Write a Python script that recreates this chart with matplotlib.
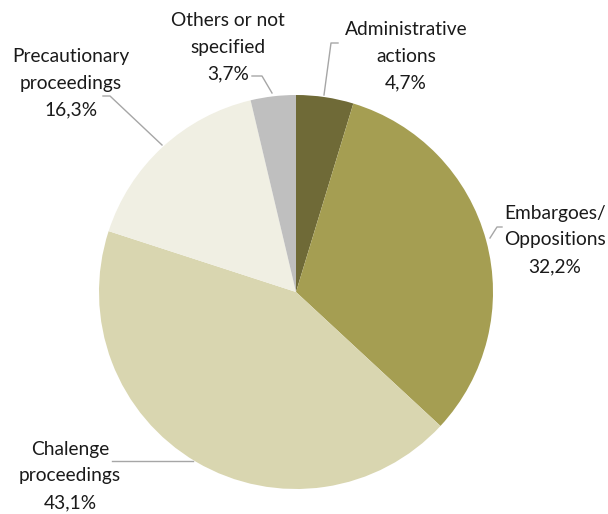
import matplotlib
matplotlib.use("Agg")
import matplotlib.pyplot as plt

# share of proceedings by type, clockwise from 12 o'clock
categories = ["Administrative\nactions", "Embargoes/\nOppositions", "Chalenge\nproceedings",
              "Precautionary\nproceedings", "Others or not\nspecified"]
shares = [4.7, 32.2, 43.1, 16.3, 3.7]
colors = ["#6f6a37", "#a59e52", "#d9d6b0", "#f0efe3", "#bfbfbf"]

W, H = 608, 514
fig = plt.figure(figsize=(W / 100, H / 100), dpi=100)
ax = fig.add_axes([0, 0, 1, 1])

cx, cy, r = 296, 292, 197
wedges, _ = ax.pie(shares, colors=colors, startangle=90, counterclock=False,
                   center=(cx, -cy), radius=r, frame=True)
# pie draws in y-up space; flip it into the pixel-style axes
for w in wedges:
    w.set_center((cx, cy))
    t1, t2 = w.theta1, w.theta2
    w.set_theta1(-t2)
    w.set_theta2(-t1)
ax.set_xlim(0, W)
ax.set_ylim(H, 0)
ax.set_aspect("equal")
ax.axis("off")

# label positions (text centre) and leader lines
label_pos = [(406, 56), (555, 240), (70, 476), (71, 83), (228, 47)]
leaders = [
    [(338, 43), (331, 43), (324, 95)],
    [(502, 227), (497, 227), (490, 238)],
    [(112, 461), (193, 461)],
    [(103, 96), (110, 96), (162, 145)],
    [(252, 76), (262, 76), (272, 93)],
]

font = dict(family="Lato", fontsize=13.8, color="#1a1a1a")
for name, val, (tx, ty), pts in zip(categories, shares, label_pos, leaders):
    label = name + "\n" + f"{val:.1f}%".replace(".", ",")
    ax.text(tx, ty, label, ha="center", va="center", linespacing=1.68, **font)
    xs, ys = zip(*pts)
    ax.plot(xs, ys, color="#a6a6a6", lw=1)

fig.savefig("out.png", dpi=100)
